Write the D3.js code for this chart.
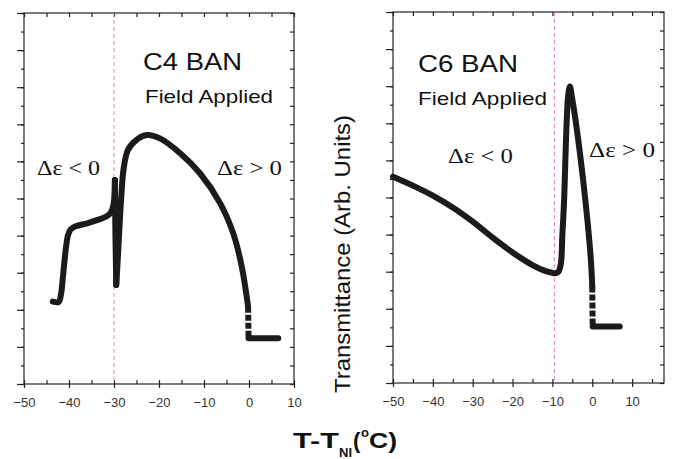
<!DOCTYPE html>
<html>
<head>
<meta charset="utf-8">
<script src="https://cdn.jsdelivr.net/npm/d3@7"></script>
<style>
  body { margin: 0; background: #fff; }
  svg { display: block; }
</style>
</head>
<body>
<div id="chart"></div>
<script>
// ---- data (T - T_NI in °C, transmittance in arb. units 0..10) ----
const c4Low  = [[-43.6,2.22],[-42.3,2.21],[-41.8,2.4],[-41.3,2.95],[-40.7,3.65],[-40.2,4.02],[-39.6,4.17],[-38.5,4.25],[-36,4.33],[-33.5,4.43],[-31.6,4.52],[-30.6,4.64],[-30.1,4.85],[-29.9,5.1],[-29.8,5.5]];
const c4Fall = [[-29.8,5.5],[-29.7,4.2],[-29.5,2.67]];
const c4Arc  = [[-29.5,2.67],[-29.1,3.5],[-28.7,4.42],[-28.3,5.2],[-27.9,5.77],[-26.9,6.31],[-25.0,6.58],[-22.7,6.71],[-19.8,6.62],[-15.3,6.22],[-10.9,5.68],[-6.4,4.87],[-3.5,4.06],[-1.6,3.16],[-0.4,2.26],[-0.2,2.08]];
const c4Drop = [[-0.2,2.08],[-0.1,1.23]];
const c4Iso  = [[-0.1,1.23],[6.5,1.23]];

const c6Main = [[-50,5.56],[-45,5.32],[-40,5.05],[-35,4.73],[-30,4.35],[-25,3.92],[-20,3.52],[-15,3.18],[-12,3.03],[-10,2.97],[-9.2,2.96],[-8.5,3.0],[-7.9,3.2],[-7.5,4.0],[-7.1,4.84],[-6.4,7.09],[-6.0,7.8],[-5.6,7.99],[-5.1,7.7],[-4.2,7.09],[-2.1,5.29],[-0.4,3.40],[0,2.6]];
const c6Drop = [[0,2.6],[0.1,1.52]];
const c6Iso  = [[0.1,1.52],[6.9,1.52]];

const c4Transition = -30;
const c6Transition = -9.5;

const majorX = [-50, -40, -30, -20, -10, 0, 10];
const c4MinorX = d3.range(-50, 10.1, 5);
const c6MinorX = d3.range(-50, 15.1, 5);
const majorY = d3.range(0, 10.1, 1);
const minorY = d3.range(0, 10.01, 0.5);

const svg = d3.select("#chart").append("svg")
    .attr("width", 674)
    .attr("height", 459);

const line = (x, y) => d3.line()
    .x(d => x(d[0]))
    .y(d => y(d[1]))
    .curve(d3.curveCatmullRom.alpha(0.5));

function panel(opts) {
    const x = d3.scaleLinear().domain(opts.xDomain).range([opts.left, opts.right]);
    const y = d3.scaleLinear().domain([0, 10]).range([opts.bottom, opts.top]);
    const g = svg.append("g");

    // frame
    g.append("rect")
        .attr("x", opts.left).attr("y", opts.top)
        .attr("width", opts.right - opts.left).attr("height", opts.bottom - opts.top)
        .attr("fill", "none").attr("stroke", "#222").attr("stroke-width", 1.2);

    // bottom axis: labelled majors crossing the frame, minors inward
    g.append("g").attr("transform", `translate(0,${opts.bottom})`)
        .call(d3.axisBottom(x).tickValues(majorX).tickSize(4).tickPadding(10).tickFormat(d3.format("d")))
        .call(a => a.select(".domain").remove())
        .call(a => a.selectAll("text")
            .style("font-family", "Arial, 'Liberation Sans', sans-serif")
            .style("font-size", "13px")
            .style("fill", "#333"));
    g.append("g").attr("transform", `translate(0,${opts.bottom})`)
        .call(d3.axisTop(x).tickValues(opts.minorX).tickSize(4).tickFormat(""))
        .call(a => a.select(".domain").remove());

    // top axis: inward ticks
    g.append("g").attr("transform", `translate(0,${opts.top})`)
        .call(d3.axisBottom(x).tickValues(opts.minorX).tickSize(4).tickFormat(""))
        .call(a => a.select(".domain").remove());

    // left axis: outward ticks
    g.append("g").attr("transform", `translate(${opts.left},0)`)
        .call(d3.axisLeft(y).tickValues(majorY).tickSize(7).tickFormat(""))
        .call(a => a.select(".domain").remove());
    g.append("g").attr("transform", `translate(${opts.left},0)`)
        .call(d3.axisLeft(y).tickValues(minorY).tickSize(3).tickFormat(""))
        .call(a => a.select(".domain").remove());

    // right axis: inward ticks
    g.append("g").attr("transform", `translate(${opts.right},0)`)
        .call(d3.axisLeft(y).tickValues(minorY).tickSize(4).tickFormat(""))
        .call(a => a.select(".domain").remove());

    g.selectAll(".tick line").attr("stroke", "#222").attr("stroke-width", 1.2);

    // transition marker
    g.append("line")
        .attr("x1", x(opts.transition)).attr("x2", x(opts.transition))
        .attr("y1", opts.top).attr("y2", opts.bottom)
        .attr("stroke", "#e07ad0").attr("stroke-width", 1)
        .attr("stroke-dasharray", "4,3");

    // curve segments
    opts.segments.forEach(s => {
        g.append("path")
            .datum(s.data)
            .attr("fill", "none")
            .attr("stroke", "#1c1a1a")
            .attr("stroke-width", 6)
            .attr("stroke-linejoin", "round")
            .attr("stroke-linecap", s.dashed ? "butt" : "round")
            .attr("stroke-dasharray", s.dashed ? "6,2" : null)
            .attr("d", line(x, y));
    });

    // labels
    opts.labels.forEach(l => {
        g.append("text")
            .attr("x", l.x).attr("y", l.y)
            .attr("textLength", l.w)
            .attr("lengthAdjust", "spacingAndGlyphs")
            .style("font-family", l.serif ? "'Times New Roman', 'Liberation Serif', serif" : "Arial, 'Liberation Sans', sans-serif")
            .style("font-size", l.size + "px")
            .style("fill", "#111")
            .text(l.text);
    });
}

panel({
    xDomain: [-50, 10], left: 24, right: 294, top: 13, bottom: 384,
    minorX: c4MinorX, transition: c4Transition,
    segments: [
        { data: c4Low }, { data: c4Fall }, { data: c4Arc },
        { data: c4Drop, dashed: true }, { data: c4Iso }
    ],
    labels: [
        { text: "C4 BAN", x: 143, y: 70, w: 99, size: 24 },
        { text: "Field Applied", x: 145, y: 103, w: 128, size: 19 },
        { text: "\u0394\u03b5 < 0", x: 37, y: 175, w: 63, size: 21, serif: true },
        { text: "\u0394\u03b5 > 0", x: 217, y: 175, w: 65, size: 21, serif: true }
    ]
});

panel({
    xDomain: [-50, 18], left: 393, right: 664, top: 12, bottom: 383,
    minorX: c6MinorX, transition: c6Transition,
    segments: [
        { data: c6Main }, { data: c6Drop, dashed: true }, { data: c6Iso }
    ],
    labels: [
        { text: "C6 BAN", x: 418, y: 72, w: 100, size: 24 },
        { text: "Field Applied", x: 418, y: 105, w: 129, size: 19 },
        { text: "\u0394\u03b5 < 0", x: 448, y: 163, w: 65, size: 21, serif: true },
        { text: "\u0394\u03b5 > 0", x: 589, y: 157, w: 66, size: 21, serif: true }
    ]
});

// y axis title
svg.append("text")
    .attr("transform", "translate(350,254) rotate(-90)")
    .attr("text-anchor", "middle")
    .attr("textLength", 278)
    .attr("lengthAdjust", "spacingAndGlyphs")
    .style("font-family", "Arial, 'Liberation Sans', sans-serif")
    .style("font-size", "22px")
    .style("fill", "#111")
    .text("Transmittance (Arb. Units)");

// x axis title: T-T_NI(°C)
const xt = svg.append("g")
    .style("font-family", "Arial, 'Liberation Sans', sans-serif")
    .style("font-weight", "bold")
    .style("fill", "#111");
xt.append("text").attr("x", 293).attr("y", 448).style("font-size", "22px")
    .attr("textLength", 46).attr("lengthAdjust", "spacingAndGlyphs").text("T-T");
xt.append("text").attr("x", 339).attr("y", 457).style("font-size", "12px")
    .attr("textLength", 13).attr("lengthAdjust", "spacingAndGlyphs").text("NI");
xt.append("text").attr("x", 353).attr("y", 448).style("font-size", "22px").text("(");
xt.append("text").attr("x", 361).attr("y", 437).style("font-size", "13px").text("o");
xt.append("text").attr("x", 369).attr("y", 448).style("font-size", "22px")
    .attr("textLength", 28).attr("lengthAdjust", "spacingAndGlyphs").text("C)");
</script>
</body>
</html>
